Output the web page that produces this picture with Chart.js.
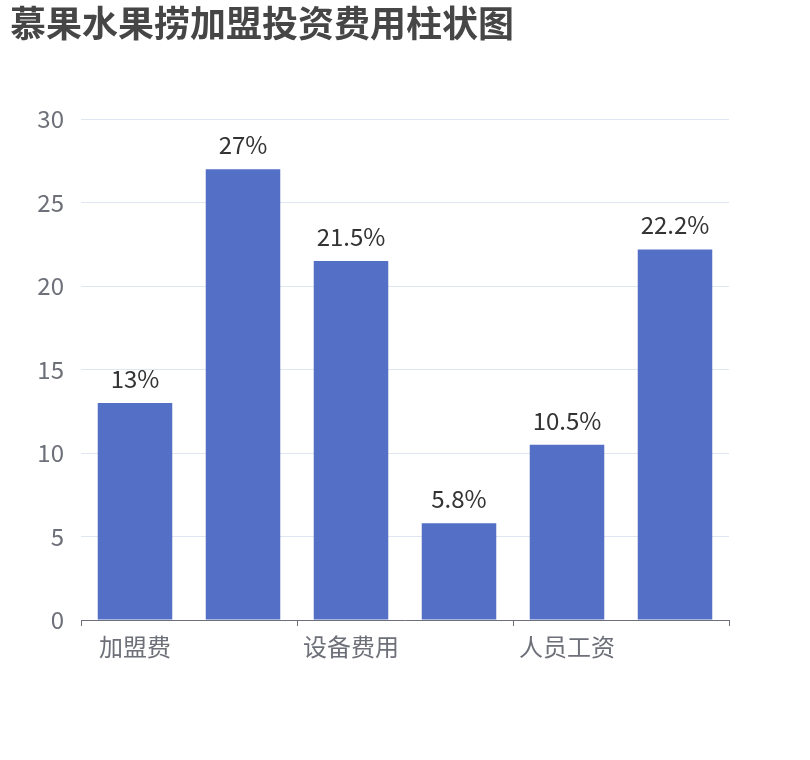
<!DOCTYPE html>
<html>
<head>
<meta charset="utf-8">
<script src="https://cdn.jsdelivr.net/npm/chart.js@4"></script>
<style>
  html, body { margin: 0; padding: 0; background: #fff; }
  #wrap { width: 810px; height: 760px; position: relative; }
</style>
</head>
<body>
<div id="wrap"><canvas id="chart-fee"></canvas></div>
<script>
/* ── 数据 ── */
const categories = ['加盟费', '装修费用', '设备费用', '首批进货', '人员工资', '其他费用'];
const feeValues  = [13, 27, 21.5, 5.8, 10.5, 22.2];
const yTicks     = [0, 5, 10, 15, 20, 25, 30];

/* ── 颜色 ── */
const C = {
  bar      : '#5470c6',
  title    : '#464646',
  axisText : '#6e7079',
  axisLine : '#6e7079',
  gridLine : '#e0e6f1',
  label    : '#333333',
};
const FONT = '"Noto Sans CJK SC", "Noto Sans", sans-serif';

/* 柱顶百分比标签 */
const barLabels = {
  id: 'barLabels',
  afterDatasetsDraw(chart) {
    const { ctx } = chart;
    const meta = chart.getDatasetMeta(0);
    ctx.save();
    ctx.font = `24px ${FONT}`;
    ctx.fillStyle = C.label;
    ctx.textAlign = 'center';
    ctx.textBaseline = 'alphabetic';
    meta.data.forEach((bar, i) => {
      ctx.fillText(feeValues[i] + '%', bar.x, bar.y - 15);
    });
    ctx.restore();
  },
};

new Chart(document.getElementById('chart-fee'), {
  type: 'bar',
  data: {
    labels: categories,
    datasets: [{
      data: feeValues,
      backgroundColor: C.bar,
      borderWidth: 0,
      categoryPercentage: 1,
      barPercentage: 0.69,
    }],
  },
  options: {
    responsive: true,
    maintainAspectRatio: false,
    animation: false,
    layout: { padding: { left: 10, right: 81, top: 0, bottom: 0 } },
    plugins: {
      legend : { display: false },
      tooltip: { enabled: false },
      title  : {
        display: true,
        text   : '慕果水果捞加盟投资费用柱状图',
        align  : 'start',
        color  : C.title,
        font   : { family: FONT, size: 36, weight: 'bold' },
        padding: { top: 2, bottom: 74 },
      },
    },
    scales: {
      x: {
        offset: true,
        grid: {
          offset: true,
          drawOnChartArea: false,
          drawTicks: true,
          tickLength: 6,
          color: ctx => (ctx.index === undefined || ctx.index % 2 === 0) ? C.axisLine : 'rgba(0,0,0,0)',
        },
        border: { display: true, color: C.axisLine, width: 1 },
        ticks: {
          autoSkip: false,
          maxRotation: 0,
          color: C.axisText,
          padding: 6,
          font: { family: FONT, size: 24 },
          callback(val, i) { return i % 2 === 0 ? this.getLabelForValue(val) : ''; },
        },
        afterFit(scale) { scale.height = 140; },
      },
      y: {
        min: 0,
        max: 30,
        afterBuildTicks(scale) { scale.ticks = yTicks.map(v => ({ value: v })); },
        grid  : { color: C.gridLine, drawTicks: false },
        border: { display: false },
        ticks : {
          color: C.axisText,
          padding: 17,
          font: { family: FONT, size: 24 },
        },
        afterFit(scale) { scale.width = 71; },
      },
    },
  },
  plugins: [barLabels],
});
</script>
</body>
</html>
